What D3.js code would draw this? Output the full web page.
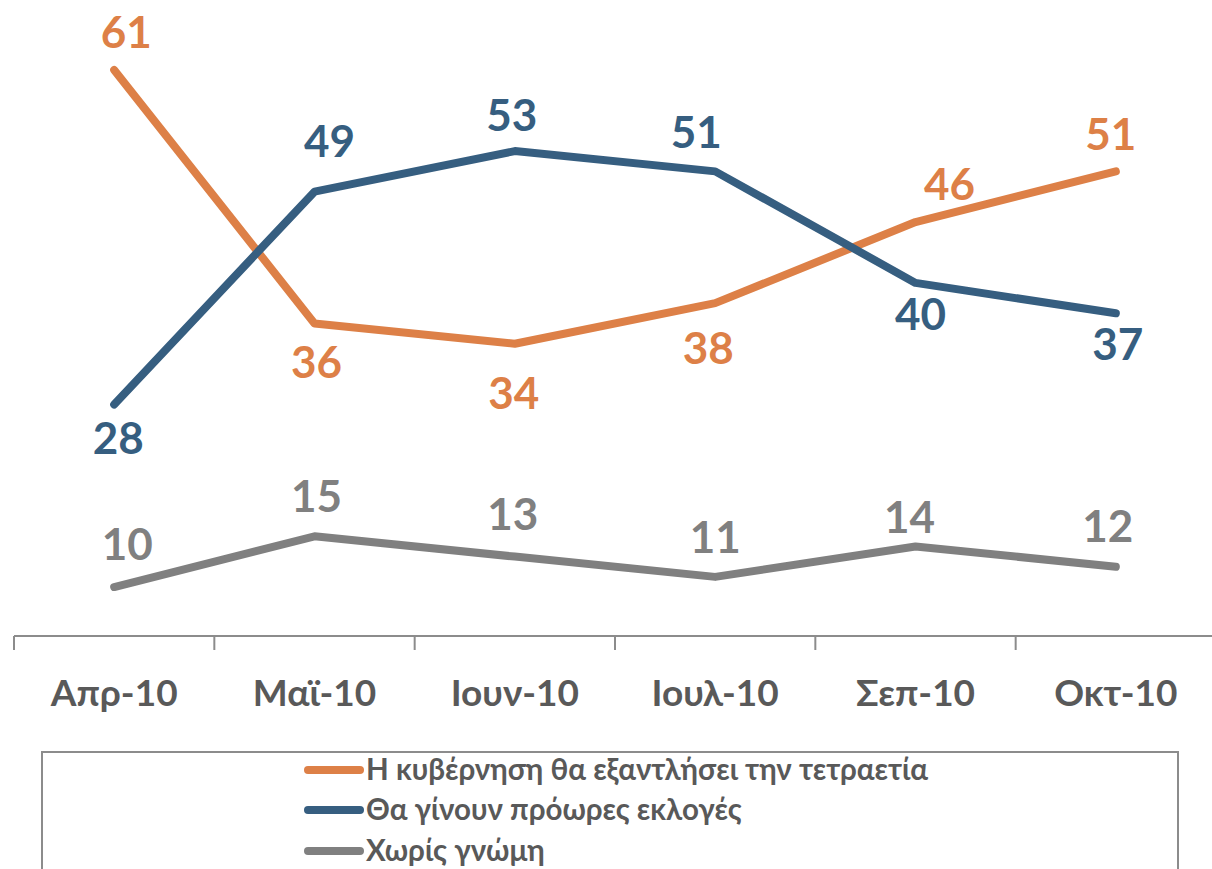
<!DOCTYPE html>
<html><head><meta charset="utf-8">
<script src="https://cdn.jsdelivr.net/npm/d3@7"></script>
<style>body{margin:0;background:#fff}svg{display:block}text{font-family:Lato,"Noto Sans",sans-serif;font-weight:bold}</style>
</head><body>
<script>
const categories = ["Απρ-10","Μαϊ-10","Ιουν-10","Ιουλ-10","Σεπ-10","Οκτ-10"];
const seriesNames = ["Η κυβέρνηση θα εξαντλήσει την τετραετία","Θα γίνουν πρόωρες εκλογές","Χωρίς γνώμη"];
const govValues = [61,36,34,38,46,51];
const earlyValues = [28,49,53,51,40,37];
const noOpinionValues = [10,15,13,11,14,12];

// layout only: label nudges (px) relative to each point
const govLabelDx = [12,2,-1,-7,34,-5];
const govLabelDy = [-22,55,65,61,-22,-21];
const earlyLabelDx = [4,15,-3,-19,5,2];
const earlyLabelDy = [49,-35,-20,-23,47,47];
const noOpinionLabelDx = [13,2,-2,0,-6,-8];
const noOpinionLabelDy = [-27,-24,-27,-24,-13,-25];

const W=1212,H=869;
const colors=["#DD8047","#365E80","#808080"];
const series=[
  {name:seriesNames[0],values:govValues,dx:govLabelDx,dy:govLabelDy,color:colors[0]},
  {name:seriesNames[1],values:earlyValues,dx:earlyLabelDx,dy:earlyLabelDy,color:colors[1]},
  {name:seriesNames[2],values:noOpinionValues,dx:noOpinionLabelDx,dy:noOpinionLabelDy,color:colors[2]}
];
const svg=d3.select("body").append("svg").attr("width",W).attr("height",H);
const x=d3.scaleBand().domain(categories).range([14,1216]);
const y=d3.scaleLinear().domain([5,61]).range([637.7,70]);
const cx=c=>x(c)+x.bandwidth()/2;

// axis
const axisG=svg.append("g").attr("transform","translate(0,636)");
axisG.append("line").attr("x1",14).attr("x2",W).attr("stroke","#8c8c8c").attr("stroke-width",2);
axisG.selectAll("line.tick").data(categories).enter().append("line").attr("class","tick")
  .attr("x1",d=>x(d)).attr("x2",d=>x(d)).attr("y1",0).attr("y2",14).attr("stroke","#8c8c8c").attr("stroke-width",2);
axisG.selectAll("text").data(categories).enter().append("text")
  .attr("x",d=>cx(d)).attr("y",70).attr("text-anchor","middle")
  .attr("fill","#595959").attr("font-size",37).text(d=>d);

const line=d3.line().x((d,i)=>cx(categories[i])).y(d=>y(d));
series.forEach(s=>{
  svg.append("path").attr("d",line(s.values)).attr("fill","none").attr("stroke",s.color)
    .attr("stroke-width",8).attr("stroke-linecap","round").attr("stroke-linejoin","round");
  svg.append("g").selectAll("text").data(s.values).enter().append("text")
    .attr("x",(d,i)=>cx(categories[i])+s.dx[i])
    .attr("y",(d,i)=>y(d)+s.dy[i])
    .attr("text-anchor","middle").attr("fill",s.color).attr("font-size",44).text(d=>d);
});

// legend
const lg=svg.append("g");
lg.append("rect").attr("x",42).attr("y",752).attr("width",1136).attr("height",140)
  .attr("fill","none").attr("stroke","#8c8c8c").attr("stroke-width",2);
const rowY=[770,810,851];
series.forEach((s,i)=>{
  lg.append("line").attr("x1",308).attr("x2",360).attr("y1",rowY[i]).attr("y2",rowY[i])
    .attr("stroke",s.color).attr("stroke-width",8).attr("stroke-linecap","round");
  lg.append("text").attr("x",366).attr("y",rowY[i]+10).attr("fill","#595959")
    .attr("font-size",29.5).text(s.name);
});
</script>
</body></html>
